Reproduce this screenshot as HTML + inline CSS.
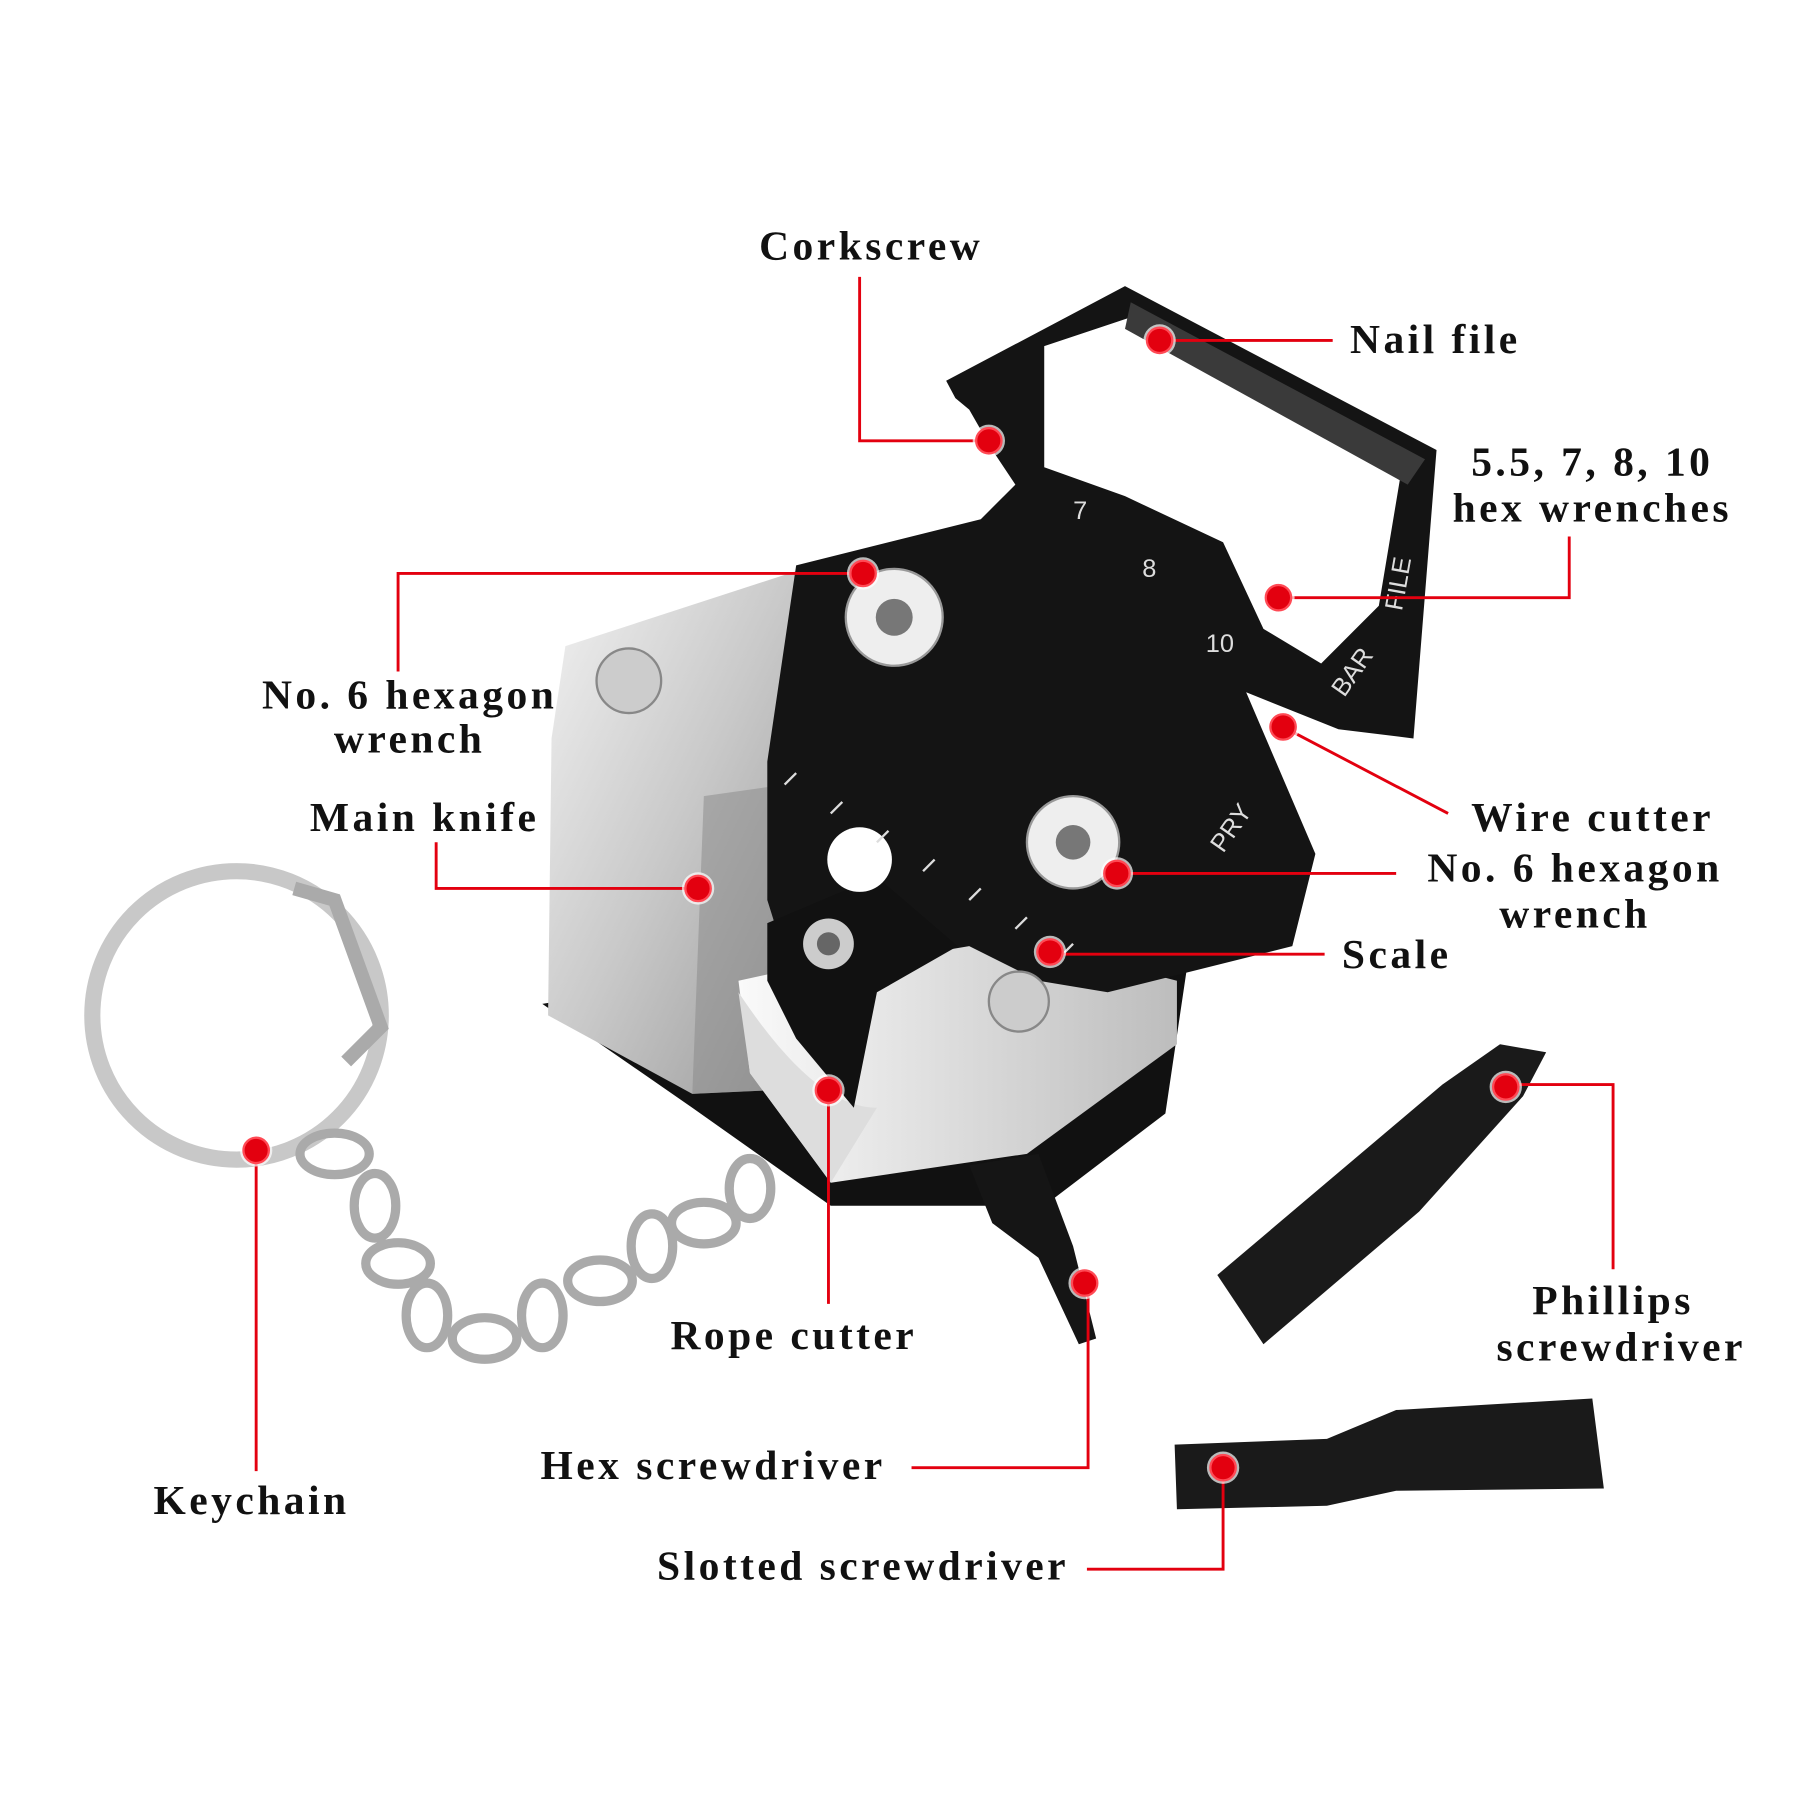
<!DOCTYPE html>
<html><head><meta charset="utf-8"><style>
html,body{margin:0;padding:0;background:#fff;}
svg{display:block;}
text{font-family:"Liberation Serif",serif;font-weight:bold;font-size:36px;letter-spacing:3px;fill:#111;}
</style></head><body>
<svg width="1800" height="1800" viewBox="0 0 1560 1560" xmlns="http://www.w3.org/2000/svg">
<defs>
<linearGradient id="sil" x1="0" y1="0" x2="1" y2="1"><stop offset="0" stop-color="#f2f2f2"/><stop offset="0.5" stop-color="#c9c9c9"/><stop offset="1" stop-color="#9a9a9a"/></linearGradient>
<linearGradient id="sil2" x1="0" y1="0" x2="1" y2="0"><stop offset="0" stop-color="#fafafa"/><stop offset="1" stop-color="#bdbdbd"/></linearGradient>
<g id="dot"><circle r="14" fill="#fff" opacity="0.7"/><circle r="11" fill="#e3000f" stroke="#ff4a55" stroke-width="2"/></g>
</defs>
<rect width="1560" height="1560" fill="#fff"/>

<path d="M470,870 L600,960 L720,1045 L905,1045 L1010,965 L1030,830 L900,800 L650,840 Z" fill="#111"/>
<path d="M490,560 L690,495 L665,945 L600,948 L475,880 L478,640 Z" fill="url(#sil)"/>
<path d="M610,690 L680,680 L665,945 L600,948 Z" fill="#888" opacity="0.5"/>
<path d="M640,850 L845,805 L1020,850 L1020,905 L890,1000 L720,1025 L650,930 Z" fill="url(#sil2)"/>
<path d="M640,860 C680,920 720,960 760,960 L720,1025 L650,930 Z" fill="#ddd"/>
<path d="M820,330 L975,248 L1245,390 L1225,640 L1160,632 L1080,600 L1140,740 L1120,820 L960,860 L900,850 L840,820 L780,830 L740,880 L690,860 L665,780 L665,660 L690,490 L850,450 L880,420 L860,390 L840,355 L828,345 Z" fill="#141414"/>
<path d="M905,300 L980,275 L1215,405 L1195,525 L1145,575 L1095,545 L1060,470 L975,430 L905,405 Z" fill="#fff"/>
<path d="M980,262 L1235,398 L1220,420 L975,285 Z" fill="#3a3a3a"/>
<path d="M665,800 L760,760 L830,820 L760,860 L740,960 L690,900 L665,850 Z" fill="#111"/>
<circle cx="745" cy="745" r="28" fill="#fff"/>
<circle cx="775" cy="535" r="42" fill="#eee" stroke="#999" stroke-width="2"/><circle cx="775" cy="535" r="16" fill="#777"/>
<circle cx="930" cy="730" r="40" fill="#eee" stroke="#999" stroke-width="2"/><circle cx="930" cy="730" r="15" fill="#777"/>
<circle cx="718" cy="818" r="22" fill="#ccc"/><circle cx="718" cy="818" r="10" fill="#666"/>
<circle cx="545" cy="590" r="28" fill="#ccc" stroke="#888" stroke-width="2"/>
<circle cx="883" cy="868" r="26" fill="#ccc" stroke="#888" stroke-width="2"/>
<g stroke="#ddd" stroke-width="2">
<line x1="680" y1="680" x2="690" y2="670"/><line x1="720" y1="705" x2="730" y2="695"/><line x1="760" y1="730" x2="770" y2="720"/><line x1="800" y1="755" x2="810" y2="745"/><line x1="840" y1="780" x2="850" y2="770"/><line x1="880" y1="805" x2="890" y2="795"/><line x1="920" y1="828" x2="930" y2="818"/>
</g>
<g>
<text x="930" y="450" style="font-family:'Liberation Sans';font-weight:normal;font-size:22px;letter-spacing:0;fill:#ddd">7</text>
<text x="990" y="500" style="font-family:'Liberation Sans';font-weight:normal;font-size:22px;letter-spacing:0;fill:#ddd">8</text>
<text x="1045" y="565" style="font-family:'Liberation Sans';font-weight:normal;font-size:22px;letter-spacing:0;fill:#ddd">10</text>
<text x="1060" y="740" transform="rotate(-55 1060 740)" style="font-family:'Liberation Sans';font-weight:normal;font-size:22px;letter-spacing:0;fill:#ddd">PRY</text>
<text x="1165" y="605" transform="rotate(-55 1165 605)" style="font-family:'Liberation Sans';font-weight:normal;font-size:22px;letter-spacing:0;fill:#ddd">BAR</text>
<text x="1215" y="530" transform="rotate(-80 1215 530)" style="font-family:'Liberation Sans';font-weight:normal;font-size:22px;letter-spacing:0;fill:#ddd">FILE</text>
</g>
<circle cx="205" cy="880" r="125" fill="none" stroke="#c8c8c8" stroke-width="14"/>
<path d="M255,770 L290,780 L330,890 L300,920" fill="none" stroke="#aaa" stroke-width="12"/>
<g fill="none" stroke="#aaa" stroke-width="8">
<ellipse cx="290" cy="1000" rx="30" ry="18"/><ellipse cx="325" cy="1045" rx="18" ry="28"/>
<ellipse cx="345" cy="1095" rx="28" ry="18"/><ellipse cx="370" cy="1140" rx="18" ry="28"/>
<ellipse cx="420" cy="1160" rx="28" ry="18"/><ellipse cx="470" cy="1140" rx="18" ry="28"/>
<ellipse cx="520" cy="1110" rx="28" ry="18"/><ellipse cx="565" cy="1080" rx="18" ry="28"/>
<ellipse cx="610" cy="1060" rx="28" ry="18"/><ellipse cx="650" cy="1030" rx="18" ry="26"/>
</g>
<path d="M840,1010 L900,1000 L930,1080 L950,1160 L935,1165 L900,1090 L860,1060 Z" fill="#151515"/>
<path d="M1055,1105 L1095,1165 L1230,1050 L1320,950 L1340,912 L1300,905 L1250,940 Z" fill="#1a1a1a"/>
<path d="M1018,1252 L1150,1247 L1210,1222 L1380,1212 L1390,1290 L1210,1292 L1150,1305 L1020,1308 Z" fill="#1a1a1a"/>

<g stroke="#e3000f" stroke-width="2.5" fill="none">
<polyline points="745,240 745,382 857,382"/>
<polyline points="1005,295 1155,295"/>
<polyline points="1360,465 1360,518 1108,518"/>
<polyline points="345,582 345,497 748,497"/>
<polyline points="378,730 378,770 605,770"/>
<polyline points="1255,705 1112,630"/>
<polyline points="1210,757 968,757"/>
<polyline points="1148,827 910,827"/>
<polyline points="222,1275 222,997"/>
<polyline points="718,1130 718,945"/>
<polyline points="790,1272 943,1272 943,1112"/>
<polyline points="1398,1100 1398,940 1305,940"/>
<polyline points="942,1360 1060,1360 1060,1272"/>
</g>
<use href="#dot" x="857" y="382"/><use href="#dot" x="1005" y="295"/><use href="#dot" x="1108" y="518"/>
<use href="#dot" x="748" y="497"/><use href="#dot" x="605" y="770"/><use href="#dot" x="1112" y="630"/>
<use href="#dot" x="968" y="757"/><use href="#dot" x="910" y="825"/><use href="#dot" x="222" y="997"/>
<use href="#dot" x="718" y="945"/><use href="#dot" x="940" y="1112"/><use href="#dot" x="1305" y="942"/>
<use href="#dot" x="1060" y="1272"/>

<text x="755" y="225" text-anchor="middle">Corkscrew</text>
<text x="1170" y="306">Nail file</text>
<text x="1380" y="412" text-anchor="middle">5.5, 7, 8, 10</text>
<text x="1380" y="452" text-anchor="middle">hex wrenches</text>
<text x="355" y="614" text-anchor="middle">No. 6 hexagon</text>
<text x="355" y="652" text-anchor="middle">wrench</text>
<text x="368" y="720" text-anchor="middle">Main knife</text>
<text x="1275" y="720">Wire cutter</text>
<text x="1365" y="764" text-anchor="middle">No. 6 hexagon</text>
<text x="1365" y="804" text-anchor="middle">wrench</text>
<text x="1163" y="839">Scale</text>
<text x="218" y="1312" text-anchor="middle">Keychain</text>
<text x="688" y="1169" text-anchor="middle">Rope cutter</text>
<text x="618" y="1282" text-anchor="middle">Hex screwdriver</text>
<text x="1398" y="1139" text-anchor="middle">Phillips</text>
<text x="1405" y="1179" text-anchor="middle">screwdriver</text>
<text x="748" y="1369" text-anchor="middle">Slotted screwdriver</text>
</svg>
</body></html>
